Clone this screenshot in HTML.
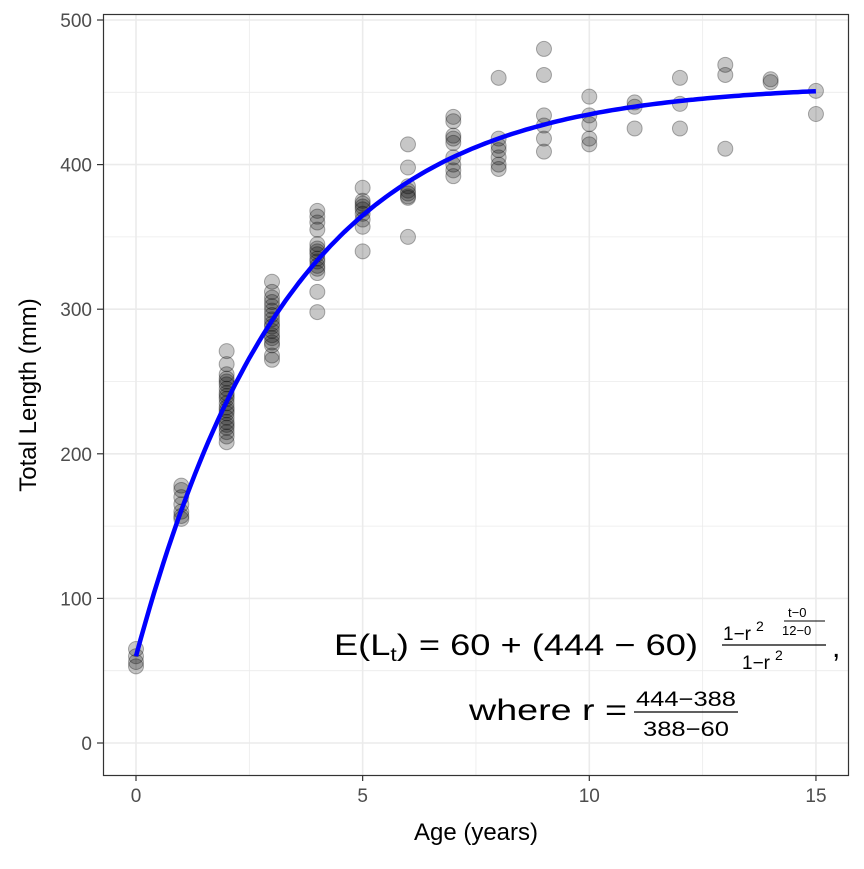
<!DOCTYPE html>
<html><head><meta charset="utf-8"><style>
body{margin:0;background:#fff;font-family:"Liberation Sans",sans-serif}
svg text{font-family:"Liberation Sans",sans-serif}
</style></head><body>
<svg id="chart" width="864" height="864" xmlns="http://www.w3.org/2000/svg">
<g id="grid"></g>
<g id="pts"></g>
<g id="curve"></g>
<rect x="103.5" y="14.5" width="745" height="761" fill="none" stroke="#333" stroke-width="1.2"/>
<g id="axes"></g>
<text x="476" y="840" font-size="24" text-anchor="middle" fill="#000">Age (years)</text>
<text transform="translate(36,395) rotate(-90)" font-size="24" text-anchor="middle" fill="#000">Total Length (mm)</text>
<g font-size="30" fill="#000">
<text x="334" y="655" textLength="364" lengthAdjust="spacingAndGlyphs">E(L<tspan font-size="19" dy="6">t</tspan><tspan dy="-6">) = 60 + (444 − 60)</tspan></text>
<text x="723" y="640" font-size="19">1−r</text>
<text x="756" y="631" font-size="14">2</text>
<text x="788" y="617" font-size="13">t−0</text>
<line x1="784" y1="621" x2="825" y2="621" stroke="#000" stroke-width="1"/>
<text x="782" y="635" font-size="13">12−0</text>
<line x1="722" y1="645" x2="826" y2="645" stroke="#000" stroke-width="1.3"/>
<text x="742" y="669" font-size="19">1−r</text>
<text x="775" y="660" font-size="14">2</text>
<text x="832" y="657">,</text>
<text x="469" y="720" textLength="158" lengthAdjust="spacingAndGlyphs">where  r =</text>
<text x="636" y="706" font-size="21" textLength="100" lengthAdjust="spacingAndGlyphs">444−388</text>
<line x1="634" y1="712" x2="738" y2="712" stroke="#000" stroke-width="1.3"/>
<text x="643" y="736" font-size="21" textLength="86" lengthAdjust="spacingAndGlyphs">388−60</text>
</g>
</svg>
<script>
const ages=[0,0,0,0,1,1,1,1,1,1,1,2,2,2,2,2,2,2,2,2,2,2,2,2,2,2,2,2,2,2,2,2,3,3,3,3,3,3,3,3,3,3,3,3,3,3,3,3,3,4,4,4,4,4,4,4,4,4,4,4,4,4,4,4,5,5,5,5,5,5,5,5,5,6,6,6,6,6,6,6,6,7,7,7,7,7,7,7,7,7,8,8,8,8,8,8,8,9,9,9,9,9,9,10,10,10,10,10,11,11,11,12,12,12,13,13,13,14,14,15,15];
const lengths=[65,60,56,53,178,175,170,165,160,157,155,271,262,255,252,250,248,245,242,240,238,235,232,230,228,225,222,220,218,215,212,208,319,312,308,305,302,299,296,293,290,288,285,282,280,277,275,268,265,368,364,360,355,345,342,340,338,335,333,330,328,325,312,298,384,375,373,371,369,366,362,357,340,414,398,385,382,380,378,377,350,433,430,420,418,415,405,400,396,392,460,418,413,410,405,400,397,480,462,434,427,418,409,447,434,428,418,414,443,440,425,460,442,425,469,462,411,459,457,451,435];
const xTicks=[0,5,10,15];
const yTicks=[0,100,200,300,400,500];
const L1=60, L3=444, L2=388, t1=0, t3=12;
const NS='http://www.w3.org/2000/svg';
const X=v=>136+v*45.33, Y=v=>743-v*1.446;
function mk(t,a,p){const e=document.createElementNS(NS,t);for(const k in a)e.setAttribute(k,a[k]);p.appendChild(e);return e;}
const grid=document.getElementById('grid'),axes=document.getElementById('axes');
for(let v=0;v<=15;v+=2.5){const l=mk('line',{x1:X(v),x2:X(v),y1:14,y2:775,stroke:'#ebebeb','stroke-width':v%5===0?1.6:0.8},grid);

}
for(let v=0;v<=500;v+=50){const l=mk('line',{x1:103,x2:848,y1:Y(v),y2:Y(v),stroke:'#ebebeb','stroke-width':v%100===0?1.6:0.8},grid);

}
xTicks.forEach(v=>{mk('line',{x1:X(v),x2:X(v),y1:775,y2:781,stroke:'#333','stroke-width':1.2},axes);
const t=mk('text',{x:X(v),y:802,'font-size':19,'text-anchor':'middle',fill:'#4d4d4d'},axes);t.textContent=v;

});
yTicks.forEach(v=>{mk('line',{x1:97,x2:103,y1:Y(v),y2:Y(v),stroke:'#333','stroke-width':1.2},axes);
const t=mk('text',{x:92,y:Y(v)+7,'font-size':19,'text-anchor':'end',fill:'#4d4d4d'},axes);t.textContent=v;

});
const pts=document.getElementById('pts');
ages.forEach((a,i)=>{const c=mk('circle',{cx:X(a),cy:Y(lengths[i]),r:7.5,fill:'rgba(0,0,0,0.22)',stroke:'rgba(0,0,0,0.3)','stroke-width':1},pts);

});
const r=(L3-L2)/(L2-L1);
let d='';for(let t=0;t<=15.0001;t+=0.1){const L=L1+(L3-L1)*(1-Math.pow(r,2*(t-t1)/(t3-t1)))/(1-r*r);d+=(t===0?'M':'L')+X(t).toFixed(1)+','+Y(L).toFixed(1);}
const p=mk('path',{d:d,fill:'none',stroke:'#0000ff','stroke-width':4.5},document.getElementById('curve'));


</script>
</body></html>
